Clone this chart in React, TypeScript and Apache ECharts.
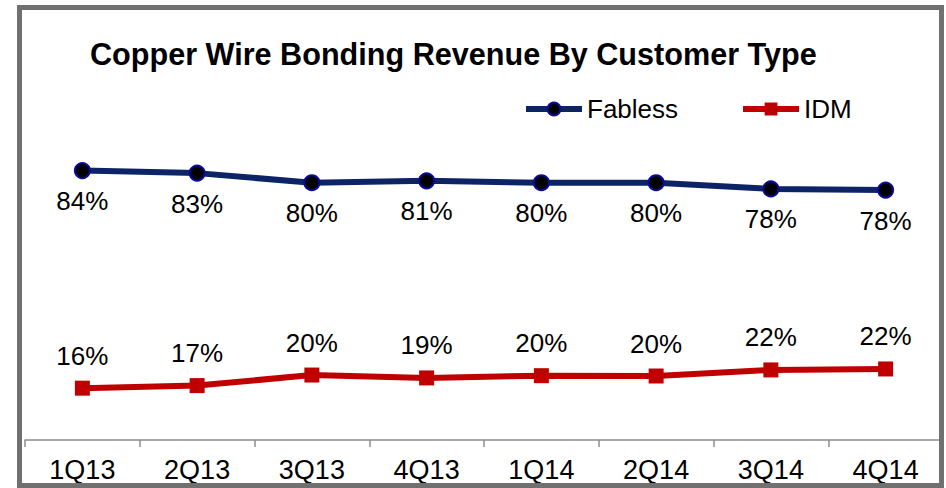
import React, { useEffect, useRef } from "react";
import * as echarts from "echarts";

const categories = ["1Q13", "2Q13", "3Q13", "4Q13", "1Q14", "2Q14", "3Q14", "4Q14"];
const fablessShare = [84.2, 83.4, 80.4, 81.0, 80.4, 80.4, 78.45, 78.1];
const idmShare = [16.2, 17.0, 20.3, 19.4, 20.1, 20.0, 21.9, 22.2];
const titleText = "Copper Wire Bonding Revenue By Customer Type";

const FONT = "'Liberation Sans', Arial, Helvetica, sans-serif";

export default function App() {
  const ref = useRef<HTMLDivElement>(null);
  useEffect(() => {
    if (!ref.current) return;
    const chart = echarts.init(ref.current, null, { renderer: "svg" });
    const pct = (p: any) => Math.round(p.value) + "%";
    chart.setOption({
      animation: false,
      backgroundColor: "#ffffff",
      title: {
        text: titleText,
        left: 90,
        top: 38,
        padding: 0,
        textStyle: { fontFamily: FONT, fontSize: 30.6, fontWeight: "bold", color: "#000" },
      },
      legend: {
        left: 523,
        top: 96,
        padding: 0,
        itemWidth: 56,
        itemHeight: 16,
        itemGap: 62,
        lineStyle: { width: 6 },
        textStyle: { fontFamily: FONT, fontSize: 26, color: "#000" },
        data: ["Fabless", "IDM"],
      },
      grid: { left: 25, top: 120, width: 918, bottom: 48 },
      xAxis: {
        type: "category",
        data: categories,
        boundaryGap: true,
        axisLine: { lineStyle: { color: "#8c8c8c", width: 1.5 } },
        axisTick: { show: true, length: 7, lineStyle: { color: "#8c8c8c", width: 1.5 } },
        axisLabel: { fontFamily: FONT, fontSize: 27, color: "#000", margin: 16 },
      },
      yAxis: {
        type: "value",
        min: 0,
        max: 100,
        show: false,
        splitLine: { show: false },
      },
      series: [
        {
          name: "Fabless",
          type: "line",
          data: fablessShare,
          symbol: "circle",
          symbolSize: 15,
          lineStyle: { color: "#0c2366", width: 6 },
          itemStyle: { color: "#000000", borderColor: "#0a0aa0", borderWidth: 2 },
          label: {
            show: true,
            position: "bottom",
            distance: 9,
            formatter: pct,
            fontFamily: FONT,
            fontSize: 26,
            color: "#000",
          },
        },
        {
          name: "IDM",
          type: "line",
          data: idmShare,
          symbol: "rect",
          symbolSize: 15,
          lineStyle: { color: "#c00000", width: 6 },
          itemStyle: { color: "#c00000" },
          label: {
            show: true,
            position: "top",
            distance: 12,
            formatter: pct,
            fontFamily: FONT,
            fontSize: 26,
            color: "#000",
          },
        },
      ],
      graphic: [
        {
          type: "rect",
          shape: { x: 19.5, y: 7.5, width: 922, height: 478 },
          style: { fill: "none", stroke: "#707070", lineWidth: 5 },
          z: 100,
        },
      ],
    });
    return () => chart.dispose();
  }, []);
  return (
    <div
      ref={ref}
      style={{ position: "absolute", left: 0, top: 0, width: 946, height: 488 }}
    />
  );
}
